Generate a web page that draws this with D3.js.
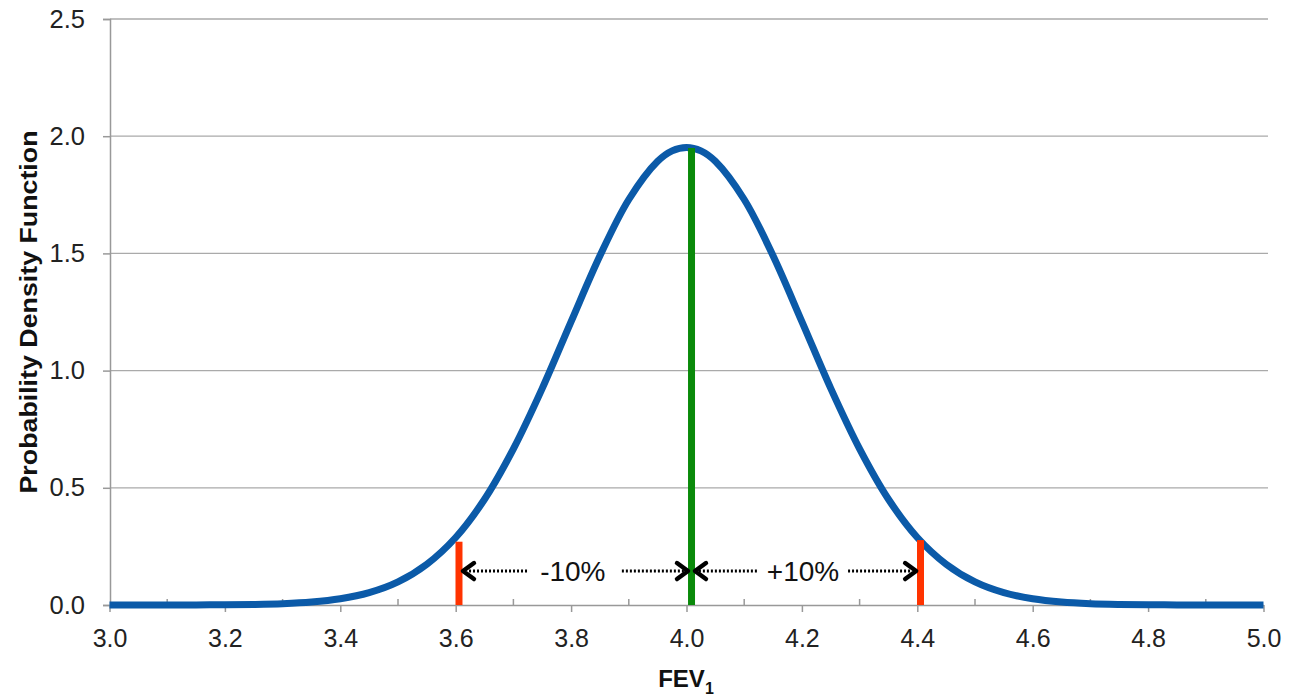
<!DOCTYPE html>
<html><head><meta charset="utf-8">
<script src="https://cdn.jsdelivr.net/npm/d3@7"></script>
<style>
body{margin:0;background:#fff;}
text{font-family:"Liberation Sans",Arial,sans-serif;}
</style></head>
<body><svg id="c" width="1290" height="698"></svg>
<script>
// Data
const curveX = [3.00,3.05,3.10,3.15,3.20,3.25,3.30,3.35,3.40,3.45,3.50,3.55,3.60,3.65,3.70,3.75,3.80,3.85,3.90,3.95,3.975,4.00,4.025,4.05,4.10,4.15,4.20,4.25,4.30,4.35,4.40,4.45,4.50,4.55,4.60,4.65,4.70,4.75,4.80,4.85,4.90,4.95,5.00];
const curveY = [0.000,0.000,0.0001,0.0004,0.0009,0.0024,0.0056,0.0125,0.0265,0.0526,0.0984,0.174,0.288,0.451,0.666,0.924,1.209,1.490,1.730,1.893,1.9375,1.952,1.9375,1.893,1.730,1.490,1.209,0.924,0.666,0.451,0.288,0.174,0.0984,0.0526,0.0265,0.0125,0.0056,0.0024,0.0009,0.0004,0.0001,0.000,0.000];
const markerX = [3.6057, 4.0087, 4.4055];
const markerTop = [0.270, 1.950, 0.277];
const markerColor = ["#ff3300", "#0a8a0a", "#ff3300"];
const arrowY = 0.145;
const arrowSegs = [[3.7236,3.6126],[3.888,4.0026],[4.122,4.0147],[4.280,4.398]]; // [from, tip]
const pctLabels = ["-10%", "+10%"];
const pctX = [3.803, 4.202];
const xTicks = [3.0,3.2,3.4,3.6,3.8,4.0,4.2,4.4,4.6,4.8,5.0];
const xMinor = [3.1,3.3,3.5,3.7,3.9,4.1,4.3,4.5,4.7,4.9];
const yTicks = [0.0,0.5,1.0,1.5,2.0,2.5];

const svg = d3.select("#c");
const x = d3.scaleLinear().domain([3,5]).range([109.5,1263.5]);
const y = d3.scaleLinear().domain([0,2.5]).range([605,19]);

// gridlines
svg.append("g").selectAll("line").data(yTicks.slice(1)).join("line")
  .attr("x1",110).attr("x2",1268).attr("y1",d=>y(d)).attr("y2",d=>y(d))
  .attr("stroke","#aaaaaa").attr("stroke-width",1.3);

// y axis
const ya = svg.append("g").attr("transform","translate(110,0)")
  .call(d3.axisLeft(y).tickValues(yTicks).tickFormat(d3.format(".1f")).tickSize(7).tickPadding(18));
ya.select(".domain").attr("stroke","#999").attr("stroke-width",1.5);
ya.selectAll(".tick line").attr("stroke","#999").attr("stroke-width",1.5);
ya.selectAll(".tick text").attr("font-size",25.5).attr("fill","#222").attr("font-family","Liberation Sans, Arial, sans-serif");

// x axis
const xa = svg.append("g").attr("transform","translate(0,605)")
  .call(d3.axisBottom(x).tickValues(xTicks).tickFormat(d3.format(".1f")).tickSize(7).tickSizeOuter(0).tickPadding(17));
xa.select(".domain").attr("stroke","#999").attr("stroke-width",1.5);
xa.selectAll(".tick line").attr("stroke","#999").attr("stroke-width",1.5);
xa.selectAll(".tick text").attr("font-size",25).attr("fill","#222").attr("font-family","Liberation Sans, Arial, sans-serif");
svg.append("g").selectAll("line").data(xMinor).join("line")
  .attr("x1",d=>x(d)).attr("x2",d=>x(d)).attr("y1",605).attr("y2",599)
  .attr("stroke","#999").attr("stroke-width",1.5);

// curve
const line = d3.line().x(d=>x(d[0])).y(d=>y(d[1])).curve(d3.curveCatmullRom);
svg.append("path").datum(curveX.map((v,i)=>[v,curveY[i]]))
  .attr("d",line).attr("fill","none").attr("stroke","#0b5aa8").attr("stroke-width",7)
  .attr("stroke-linejoin","round");

// marker lines
svg.append("g").selectAll("line").data(markerX).join("line")
  .attr("x1",d=>x(d)).attr("x2",d=>x(d)).attr("y1",y(0)).attr("y2",(d,i)=>y(markerTop[i]))
  .attr("stroke",(d,i)=>markerColor[i]).attr("stroke-width",7);

// arrows
const ag = svg.append("g");
arrowSegs.forEach(([a,b])=>{
  const ya0 = y(arrowY), dir = Math.sign(x(b)-x(a));
  ag.append("line").attr("x1",x(a)).attr("x2",x(b)-dir*4).attr("y1",ya0).attr("y2",ya0)
    .attr("stroke","#000").attr("stroke-width",3).attr("stroke-dasharray","2,2");
  ag.append("path")
    .attr("d",`M${x(b)-dir*11},${ya0-8}L${x(b)},${ya0}L${x(b)-dir*11},${ya0+8}`)
    .attr("fill","none").attr("stroke","#000").attr("stroke-width",4.5)
    .attr("stroke-linecap","round").attr("stroke-linejoin","round");
});
svg.append("g").selectAll("text").data(pctLabels).join("text")
  .attr("x",(d,i)=>x(pctX[i])).attr("y",y(arrowY)+10).attr("text-anchor","middle")
  .attr("font-size",28).attr("fill","#111").text(d=>d);

// axis titles
svg.append("text").attr("transform","translate(37,312) rotate(-90)").attr("text-anchor","middle")
  .attr("font-size",24).attr("font-weight","bold").attr("fill","#111")
  .attr("textLength",363).attr("lengthAdjust","spacingAndGlyphs").text("Probability Density Function");
const ft = svg.append("text").attr("x",686).attr("y",687).attr("text-anchor","middle")
  .attr("font-size",24).attr("font-weight","bold").attr("fill","#111");
ft.append("tspan").text("FEV");
ft.append("tspan").attr("font-size",16).attr("dy",7).text("1");
</script></body></html>
